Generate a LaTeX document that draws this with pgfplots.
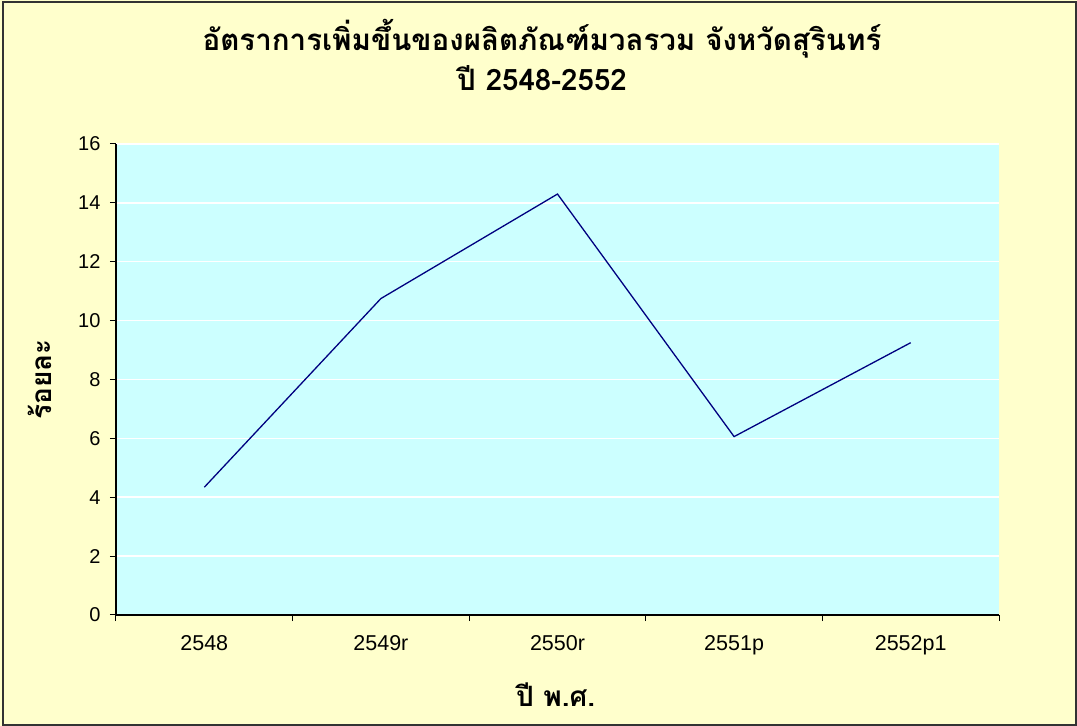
\documentclass[border=0pt]{standalone}
\usepackage{pgfplots}
\pgfplotsset{compat=1.18}
\usepackage{fontspec}
\setmainfont{Liberation Sans}
\newfontfamily\thaifont[Script=Thai]{Loma}
\definecolor{bgyellow}{RGB}{255,255,204}
\definecolor{plotcyan}{RGB}{204,255,255}
\definecolor{navyline}{RGB}{0,0,128}
\begin{document}
\begin{tikzpicture}[x=1pt,y=1pt]
\fill[bgyellow] (0,0) rectangle (1077,726);
\draw[black!80, line width=2pt] (3,1) rectangle (1076,724);
\node[font=\thaifont\bfseries\fontsize{29.5}{33}\selectfont] at (542,687) {อัตราการเพิ่มขึ้นของผลิตภัณฑ์มวลรวม จังหวัดสุรินทร์};
\node[font=\thaifont\bfseries\fontsize{29.5}{33}\selectfont] at (542,648) {ปี 2548-2552};
\begin{axis}[
  at={(116pt,111pt)}, anchor=south west,
  scale only axis, width=883pt, height=471pt,
  xmin=-0.5, xmax=4.5, ymin=0, ymax=16,
  xtick={0,...,4},
  xticklabels={2548,2549r,2550r,2551p,2552p1},
  minor xtick={-0.5,0.5,...,4.5},
  ytick={0,2,...,16},
  axis lines=left,
  axis line style={-, line width=1.2pt, black},
  tick align=outside,
  major tick length=6pt, minor tick length=6pt,
  major x tick style={draw=none},
  minor tick style={black, line width=1pt},
  major tick style={black, line width=1pt},
  ymajorgrids,
  grid style={white, line width=1.5pt},
  axis background/.style={fill=plotcyan},
  /pgf/number format/assume math mode=true,
  ticklabel style={font=\fontsize{20}{23}\selectfont},
  xticklabel style={yshift=-11pt, font=\fontsize{21.5}{24}\selectfont},
  yticklabel style={xshift=-6pt},
  xlabel={\thaifont\bfseries ปี พ.ศ.},
  ylabel={\thaifont\bfseries ร้อยละ},
  label style={font=\fontsize{28}{32}\selectfont},
  xlabel style={at={(axis description cs:0.498,-0.17)}, anchor=center},
  ylabel style={at={(axis description cs:-0.086,0.5)}, anchor=center},
]
\addplot[navyline, line width=1.3pt, mark=none] coordinates {
  (0,4.34) (1,10.75) (2,14.30) (3,6.06) (4,9.25)
};
\end{axis}
\end{tikzpicture}
\end{document}
